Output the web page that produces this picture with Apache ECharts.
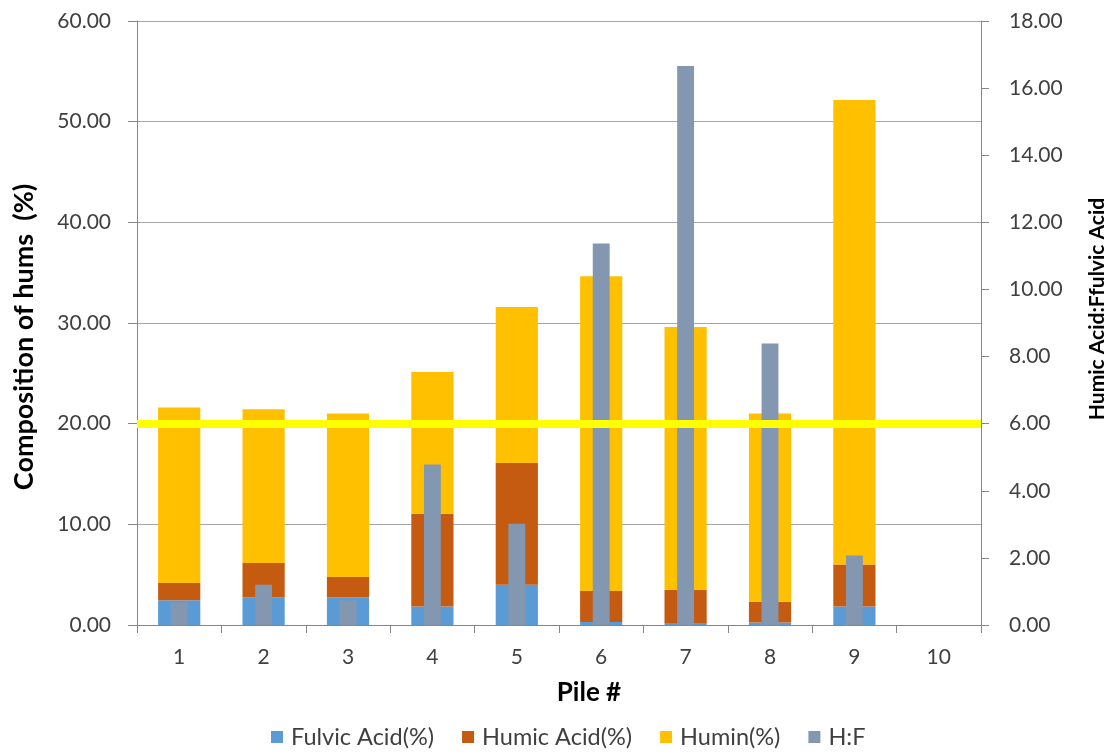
<!DOCTYPE html>
<html>
<head>
<meta charset="utf-8">
<script src="https://cdn.jsdelivr.net/npm/echarts@6/dist/echarts.min.js"></script>
<style>
  html, body { margin: 0; padding: 0; background: #fff; }
  #chart { width: 1116px; height: 754px; }
</style>
</head>
<body>
<div id="chart"></div>
<script>
// Pile numbers on the category axis
const piles = ['1', '2', '3', '4', '5', '6', '7', '8', '9', '10'];

// Composition of humic substances per pile (%), stacked
const fulvicAcid = [2.45, 2.74, 2.74, 1.85, 4.00, 0.30, 0.20, 0.25, 1.85, null];
const humicAcid  = [1.72, 3.41, 2.02, 9.21, 12.09, 3.07, 3.30, 2.07, 4.15, null];
const humin      = [17.43, 15.28, 16.24, 14.08, 15.51, 31.28, 26.10, 18.68, 46.15, null];

// Humic acid : fulvic acid ratio (right axis)
const hfRatio = [0.68, 1.20, 0.73, 4.78, 3.02, 11.37, 16.66, 8.39, 2.07, null];

// Reference level drawn across the plot (left axis, %)
const referenceLevel = 20;

const FONT = 'Lato, "Open Sans", sans-serif';
const gridGrey = '#A6A6A6';
const axisGrey = '#868686';
const labelColor = '#404040';

const chart = echarts.init(document.getElementById('chart'), null, { renderer: 'canvas' });

chart.setOption({
  animation: false,
  backgroundColor: '#ffffff',
  textStyle: { fontFamily: FONT },
  grid: { left: 137, right: 130, top: 21, bottom: 129, containLabel: false },
  legend: {
    bottom: 0,
    left: 266,
    itemWidth: 12,
    itemHeight: 12,
    itemGap: 28,
    icon: 'rect',
    textStyle: { fontFamily: FONT, fontSize: 23.5, color: labelColor, padding: [0, 0, 0, 3] },
    data: ['Fulvic Acid(%)', 'Humic Acid(%)', 'Humin(%)', 'H:F']
  },
  xAxis: [
    {
      type: 'category',
      data: piles,
      boundaryGap: true,
      name: 'Pile #',
      nameLocation: 'middle',
      nameGap: 55,
      nameTextStyle: {
        fontFamily: FONT, fontSize: 26, fontWeight: 'bold', color: '#000',
        padding: [0, 0, 0, 60]
      },
      axisLine: { lineStyle: { color: axisGrey, width: 1 } },
      axisTick: { show: true, length: 8, lineStyle: { color: axisGrey } },
      axisLabel: { fontFamily: FONT, fontSize: 21, color: labelColor, margin: 22 },
      splitLine: { show: false }
    },
    {
      type: 'category',
      data: piles,
      show: false,
      boundaryGap: true
    }
  ],
  yAxis: [
    {
      type: 'value',
      min: 0,
      max: 60,
      interval: 10,
      position: 'left',
      name: 'Composition of hums  (%)',
      nameLocation: 'middle',
      nameRotate: 90,
      nameGap: 99,
      nameTextStyle: {
        fontFamily: FONT, fontSize: 27, fontWeight: 'bold', color: '#000',
        padding: [0, 28, 0, 0]
      },
      axisLine: { show: true, lineStyle: { color: axisGrey } },
      axisTick: { show: true, length: 9, lineStyle: { color: axisGrey } },
      axisLabel: {
        fontFamily: FONT, fontSize: 21, color: labelColor, margin: 26,
        formatter: v => v.toFixed(2)
      },
      splitLine: { show: true, lineStyle: { color: gridGrey, width: 1 } }
    },
    {
      type: 'value',
      min: 0,
      max: 18,
      interval: 2,
      position: 'right',
      name: 'Humic Acid:Ffulvic Acid',
      nameLocation: 'middle',
      nameRotate: 90,
      nameGap: 106,
      nameTextStyle: {
        fontFamily: FONT, fontSize: 21, fontWeight: 'bold', color: '#000',
        padding: [0, 0, 0, 28]
      },
      axisLine: { show: true, lineStyle: { color: axisGrey } },
      axisTick: { show: true, length: 8, lineStyle: { color: axisGrey } },
      axisLabel: {
        fontFamily: FONT, fontSize: 21, color: labelColor, margin: 28,
        formatter: v => v.toFixed(2)
      },
      splitLine: { show: false }
    }
  ],
  series: [
    {
      name: 'Fulvic Acid(%)',
      type: 'bar',
      stack: 'comp',
      barWidth: '50%',
      xAxisIndex: 0,
      yAxisIndex: 0,
      itemStyle: { color: '#5B9BD5' },
      data: fulvicAcid,
      markLine: {
        silent: true,
        symbol: 'none',
        label: { show: false },
        lineStyle: { color: '#FFFF00', width: 8, type: 'solid' },
        data: [{ yAxis: referenceLevel }]
      },
      z: 2
    },
    {
      name: 'Humic Acid(%)',
      type: 'bar',
      stack: 'comp',
      barWidth: '50%',
      xAxisIndex: 0,
      yAxisIndex: 0,
      itemStyle: { color: '#C55A11' },
      data: humicAcid,
      z: 2
    },
    {
      name: 'Humin(%)',
      type: 'bar',
      stack: 'comp',
      barWidth: '50%',
      xAxisIndex: 0,
      yAxisIndex: 0,
      itemStyle: { color: '#FFC000' },
      data: humin,
      z: 2
    },
    {
      name: 'H:F',
      type: 'bar',
      barWidth: '20%',
      xAxisIndex: 1,
      yAxisIndex: 1,
      itemStyle: { color: '#8497B0' },
      data: hfRatio,
      z: 3
    }
  ]
});
</script>
</body>
</html>
